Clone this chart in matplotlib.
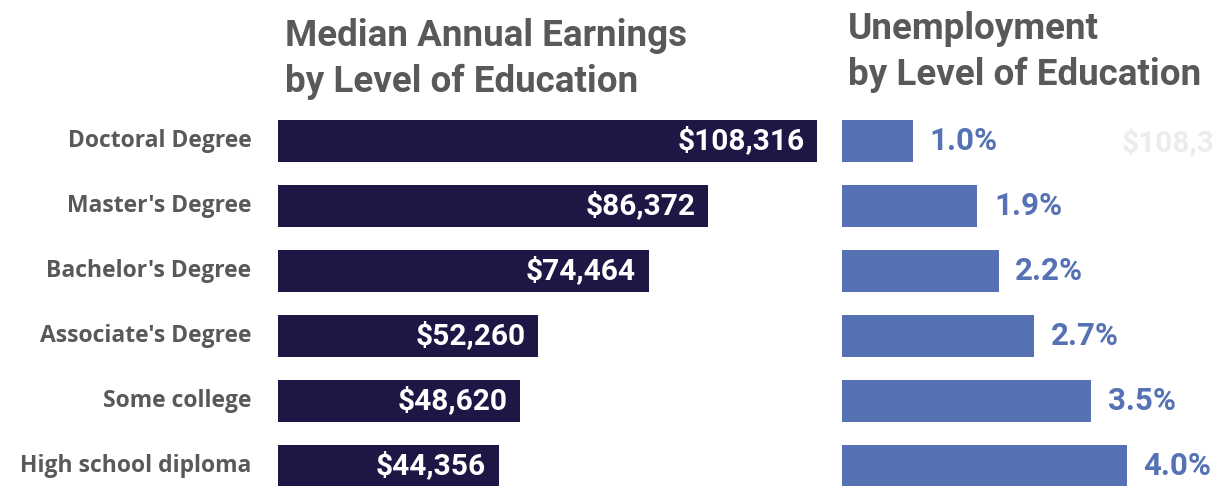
import matplotlib.pyplot as plt

# data
levels = ["Doctoral Degree", "Master's Degree", "Bachelor's Degree",
          "Associate's Degree", "Some college", "High school diploma"]
earnings = [108316, 86372, 74464, 52260, 48620, 44356]
unemployment = [1.0, 1.9, 2.2, 2.7, 3.5, 4.0]

navy = '#1c1745'
blue = '#5672b4'
grey = '#595959'

W, H = 1221, 486
fig = plt.figure(figsize=(W / 100, H / 100), dpi=100)

# pixel layout helpers
row0, step = 141, 65
top_px = row0 - step / 2
bot_px = row0 + step * (len(levels) - 0.5)

def px_axes(x0, x1):
    return fig.add_axes([x0 / W, (H - bot_px) / H, (x1 - x0) / W, (bot_px - top_px) / H])

# left: earnings
ax = px_axes(278, 830)
ypos = list(range(len(levels)))
ax.barh(ypos, earnings, height=0.66, color=navy)
ax.set_xlim(0, 108316 * (830 - 278) / 539)
ax.set_ylim(len(levels) - 0.5, -0.5)
ax.axis('off')
for y, v in zip(ypos, earnings):
    ax.annotate("${:,}".format(v), (v, y), xytext=(-9, 0), textcoords='offset points',
                ha='right', va='center', color='white', fontsize=21.5,
                fontweight='bold', family='Roboto')
for y, lab in zip(ypos, levels):
    ax.annotate(lab, (0, y), xytext=(-19, 0), textcoords='offset points',
                ha='right', va='center', color=grey, fontsize=16.5,
                fontweight='bold', family='Open Sans')

# right: unemployment
ax2 = px_axes(842, W)
ax2.barh(ypos, unemployment, height=0.66, color=blue)
ax2.set_xlim(0, (W - 842) / 71.2)
ax2.set_ylim(len(levels) - 0.5, -0.5)
ax2.axis('off')
for y, v in zip(ypos, unemployment):
    ax2.annotate("{:.1f}%".format(v), (v, y), xytext=(12, 0), textcoords='offset points',
                 ha='left', va='center', color=blue, fontsize=22.5,
                 fontweight='bold', family='Roboto')

# titles
fig.text(285 / W, 1 - 18 / H, "Median Annual Earnings\nby Level of Education",
         ha='left', va='top', color=grey, fontsize=26.5, fontweight='bold',
         family='Roboto', linespacing=1.33)
fig.text(848 / W, 1 - 11 / H, "Unemployment\nby Level of Education",
         ha='left', va='top', color=grey, fontsize=26.5, fontweight='bold',
         family='Roboto', linespacing=1.33)

# faint leftover label at the right edge
fig.text(1122 / W, 1 - 143 / H, "$108,3", ha='left', va='center',
         color='#ececec', fontsize=21.5, fontweight='bold', family='Roboto')

fig.savefig('out.png', dpi=100, facecolor='white')
